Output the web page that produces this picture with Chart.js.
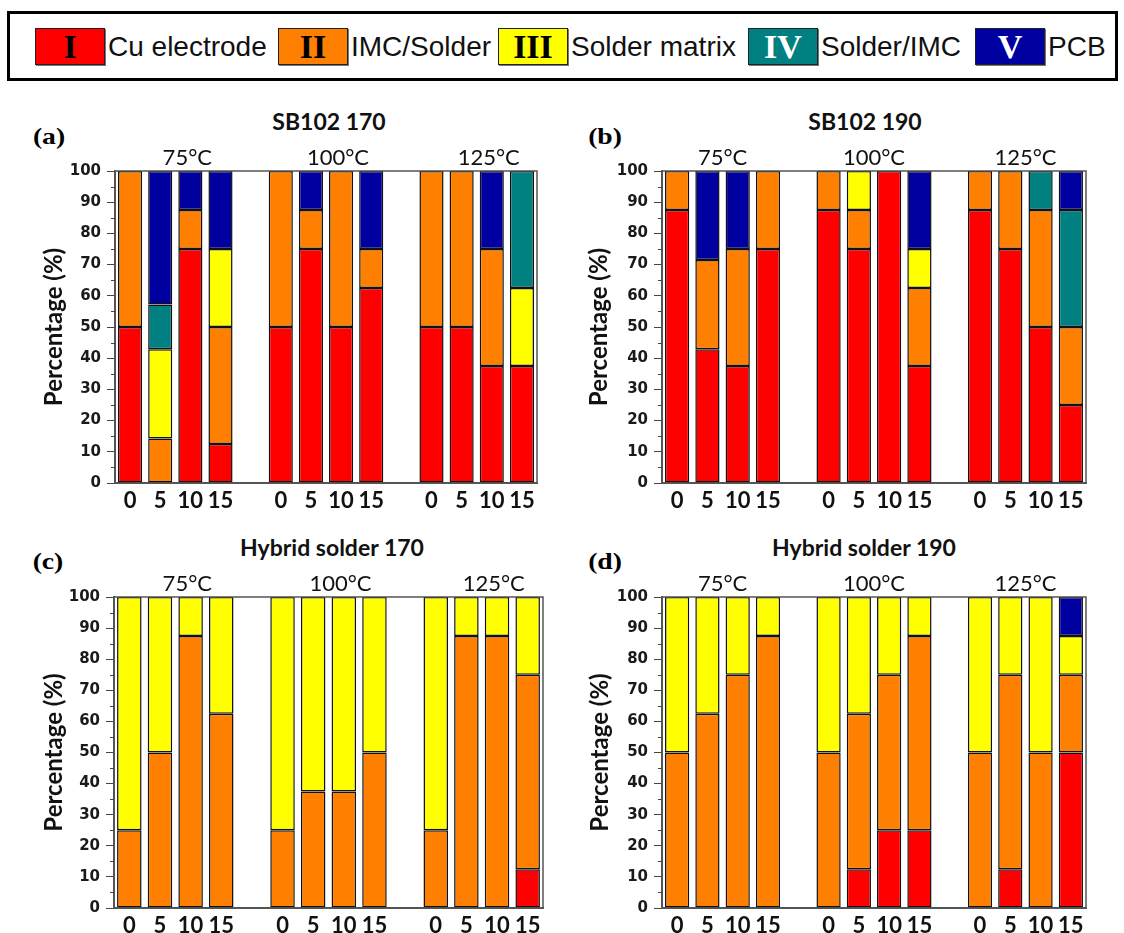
<!DOCTYPE html>
<html>
<head>
<meta charset="utf-8">
<script src="https://cdn.jsdelivr.net/npm/chart.js@4.4.1/dist/chart.umd.min.js"></script>
<style>
  body { margin: 0; width: 1124px; height: 933px; position: relative; overflow: hidden; background: #fff; font-family: 'Liberation Sans', Arial, sans-serif; }
  #legend { position: absolute; left: 7px; top: 11px; width: 1105px; height: 64px; border: 3px solid #000; }
  .item { position: absolute; top: 14px; height: 37px; display: flex; align-items: center; }
  .sw { box-sizing: border-box; width: 70px; height: 37px; border: 1px solid #222; box-shadow: 1px 1px 0 #777;
        font: bold 34px 'Liberation Serif', 'Times New Roman', serif; text-align: center; line-height: 35px; }
  .lt { font-size: 28px; color: #111; margin-left: 3px; white-space: nowrap; }
  .ttl { position: absolute; font: bold 23px Lato, sans-serif; color: #111; transform: translate(-50%, -50%); white-space: nowrap; line-height: 1; }
  .tag { position: absolute; font: bold 24px 'Liberation Serif', 'Times New Roman', serif; color: #000; transform: translate(-50%, -50%) scaleX(1.15); line-height: 1; }
  canvas { position: absolute; }
</style>
</head>
<body>
<div id="legend"></div>

<div class="tag" style="left:49px; top:136px">(a)</div>
<div class="tag" style="left:605px; top:136px">(b)</div>
<div class="tag" style="left:48px; top:561px">(c)</div>
<div class="tag" style="left:605px; top:561px">(d)</div>

<div class="ttl" style="left:329px; top:121px">SB102 170</div>
<div class="ttl" style="left:865px; top:121px">SB102 190</div>
<div class="ttl" style="left:332px; top:547px">Hybrid solder 170</div>
<div class="ttl" style="left:864px; top:547px">Hybrid solder 190</div>

<canvas id="chartA"></canvas>
<canvas id="chartB"></canvas>
<canvas id="chartC"></canvas>
<canvas id="chartD"></canvas>

<script>
// categories: aging time per temperature group, '' = spacer between groups
const xLabels = ['0', '5', '10', '15', '', '0', '5', '10', '15', '', '0', '5', '10', '15'];
const tempLabels = ['75°C', '100°C', '125°C'];
const groupStarts = [0, 5, 10];

const phaseNames = ['Cu electrode', 'IMC/Solder', 'Solder matrix', 'Solder/IMC', 'PCB'];
const phaseNumerals = ['I', 'II', 'III', 'IV', 'V'];
const phaseColors = ['#ff0000', '#ff8000', '#ffff00', '#008080', '#0000a0'];
const numeralColors = ['#000', '#000', '#000', '#fff', '#fff'];

// (a) SB102 170
const sb170Cu     = [50, 0, 75, 12.5, null, 50, 75, 50, 62.5, null, 50, 50, 37.5, 37.5];
const sb170Imc    = [50, 14.3, 12.5, 37.5, null, 50, 12.5, 50, 12.5, null, 50, 50, 37.5, 0];
const sb170Matrix = [0, 28.6, 0, 25, null, 0, 0, 0, 0, null, 0, 0, 0, 25];
const sb170SolImc = [0, 14.3, 0, 0, null, 0, 0, 0, 0, null, 0, 0, 0, 37.5];
const sb170Pcb    = [0, 42.8, 12.5, 25, null, 0, 12.5, 0, 25, null, 0, 0, 25, 0];

// (b) SB102 190
const sb190Cu     = [87.5, 42.9, 37.5, 75, null, 87.5, 75, 100, 37.5, null, 87.5, 75, 50, 25];
const sb190Imc    = [12.5, 28.6, 37.5, 25, null, 12.5, 12.5, 0, 25, null, 12.5, 25, 37.5, 25];
const sb190Matrix = [0, 0, 0, 0, null, 0, 12.5, 0, 12.5, null, 0, 0, 0, 0];
const sb190SolImc = [0, 0, 0, 0, null, 0, 0, 0, 0, null, 0, 0, 12.5, 37.5];
const sb190Pcb    = [0, 28.5, 25, 0, null, 0, 0, 0, 25, null, 0, 0, 0, 12.5];

// (c) Hybrid solder 170
const hy170Cu     = [0, 0, 0, 0, null, 0, 0, 0, 0, null, 0, 0, 0, 12.5];
const hy170Imc    = [25, 50, 87.5, 62.5, null, 25, 37.5, 37.5, 50, null, 25, 87.5, 87.5, 62.5];
const hy170Matrix = [75, 50, 12.5, 37.5, null, 75, 62.5, 62.5, 50, null, 75, 12.5, 12.5, 25];
const hy170SolImc = [0, 0, 0, 0, null, 0, 0, 0, 0, null, 0, 0, 0, 0];
const hy170Pcb    = [0, 0, 0, 0, null, 0, 0, 0, 0, null, 0, 0, 0, 0];

// (d) Hybrid solder 190
const hy190Cu     = [0, 0, 0, 0, null, 0, 12.5, 25, 25, null, 0, 12.5, 0, 50];
const hy190Imc    = [50, 62.5, 75, 87.5, null, 50, 50, 50, 62.5, null, 50, 62.5, 50, 25];
const hy190Matrix = [50, 37.5, 25, 12.5, null, 50, 37.5, 25, 12.5, null, 50, 25, 50, 12.5];
const hy190SolImc = [0, 0, 0, 0, null, 0, 0, 0, 0, null, 0, 0, 0, 0];
const hy190Pcb    = [0, 0, 0, 0, null, 0, 0, 0, 0, null, 0, 0, 0, 12.5];

// legend box
const legendBox = document.getElementById('legend');
const legendX = [25, 268, 488, 738, 965];
phaseNames.forEach((name, i) => {
    const item = document.createElement('div');
    item.className = 'item';
    item.style.left = legendX[i] + 'px';
    item.innerHTML = `<div class="sw" style="background:${phaseColors[i]};color:${numeralColors[i]}">${phaseNumerals[i]}</div><span class="lt">${name}</span>`;
    legendBox.appendChild(item);
});

// frame, minor ticks and the temperature headers
const panelDecor = {
    id: 'panelDecor',
    afterDraw(chart, args, opts) {
        const { ctx, chartArea: a, scales: { x, y } } = chart;
        ctx.save();
        ctx.strokeStyle = '#555';
        ctx.lineWidth = 1.5;
        ctx.strokeRect(a.left, a.top, a.right - a.left, a.bottom - a.top);

        ctx.strokeStyle = '#444';
        ctx.lineWidth = 1;
        for (let v = 5; v < 100; v += 10) {
            const py = Math.round(y.getPixelForValue(v)) + 0.5;
            ctx.beginPath();
            ctx.moveTo(a.left - 4, py);
            ctx.lineTo(a.left, py);
            ctx.stroke();
        }

        ctx.font = '22px Lato, sans-serif';
        ctx.fillStyle = '#111';
        ctx.textAlign = 'center';
        ctx.textBaseline = 'middle';
        tempLabels.forEach((t, i) => {
            ctx.fillText(t, x.getPixelForValue(groupStarts[i] + 1.5) + opts.shift, a.top - 13);
        });
        ctx.restore();
    }
};

function makePanel(id, series, geo) {
    const padTop = 50, padRight = 6, xAxisH = 40;
    const canvas = document.getElementById(id);
    const yw = geo.plotLeft - geo.canvasLeft;
    canvas.width = yw + (geo.plotRight - geo.plotLeft) + padRight;
    canvas.height = padTop + (geo.plotBottom - geo.plotTop) + xAxisH;
    canvas.style.left = geo.canvasLeft + 'px';
    canvas.style.top = (geo.plotTop - padTop) + 'px';

    return new Chart(canvas.getContext('2d'), {
        type: 'bar',
        data: {
            labels: xLabels,
            datasets: series.map((vals, i) => ({
                label: phaseNames[i],
                // empty phases are left out so they leave no border line
                data: vals.map(v => (v === 0 ? null : v)),
                backgroundColor: phaseColors[i],
                borderColor: '#111',
                borderWidth: 1.5,
                borderSkipped: false,
                barPercentage: 0.8,
                categoryPercentage: 1.0
            }))
        },
        options: {
            responsive: false,
            animation: false,
            layout: { padding: { top: padTop, right: padRight, left: 0, bottom: 0 } },
            plugins: {
                legend: { display: false },
                tooltip: { enabled: false },
                panelDecor: { shift: geo.tempShift }
            },
            scales: {
                x: {
                    stacked: true,
                    afterFit: s => { s.height = xAxisH; },
                    grid: { display: false, drawTicks: false },
                    border: { color: '#555', width: 2 },
                    ticks: { autoSkip: false, maxRotation: 0, padding: 5, color: '#111',
                             font: { family: 'Lato, sans-serif', size: 22, weight: 'bold' } }
                },
                y: {
                    stacked: true,
                    min: 0,
                    max: 100,
                    afterFit: s => { s.width = yw; },
                    grid: { drawOnChartArea: false, drawTicks: true, tickLength: 8, color: '#444' },
                    border: { color: '#555', width: 2 },
                    ticks: { stepSize: 10, padding: 6, color: '#1a1a1a',
                             font: { family: "'DejaVu Sans', sans-serif", size: 15, weight: 'bold' } },
                    title: { display: true, text: 'Percentage (%)', color: '#111', padding: 0,
                             font: { family: 'Lato, sans-serif', size: 24, weight: 'bold' } }
                }
            }
        },
        plugins: [panelDecor]
    });
}

makePanel('chartA', [sb170Cu, sb170Imc, sb170Matrix, sb170SolImc, sb170Pcb],
    { canvasLeft: 40, plotLeft: 115, plotRight: 537, plotTop: 171, plotBottom: 483, tempShift: 12 });
makePanel('chartB', [sb190Cu, sb190Imc, sb190Matrix, sb190SolImc, sb190Pcb],
    { canvasLeft: 585, plotLeft: 662, plotRight: 1086, plotTop: 171, plotBottom: 483, tempShift: 0 });
makePanel('chartC', [hy170Cu, hy170Imc, hy170Matrix, hy170SolImc, hy170Pcb],
    { canvasLeft: 40, plotLeft: 114, plotRight: 543, plotTop: 597, plotBottom: 908, tempShift: 12 });
makePanel('chartD', [hy190Cu, hy190Imc, hy190Matrix, hy190SolImc, hy190Pcb],
    { canvasLeft: 586, plotLeft: 662, plotRight: 1086, plotTop: 597, plotBottom: 908, tempShift: 0 });
</script>
</body>
</html>
